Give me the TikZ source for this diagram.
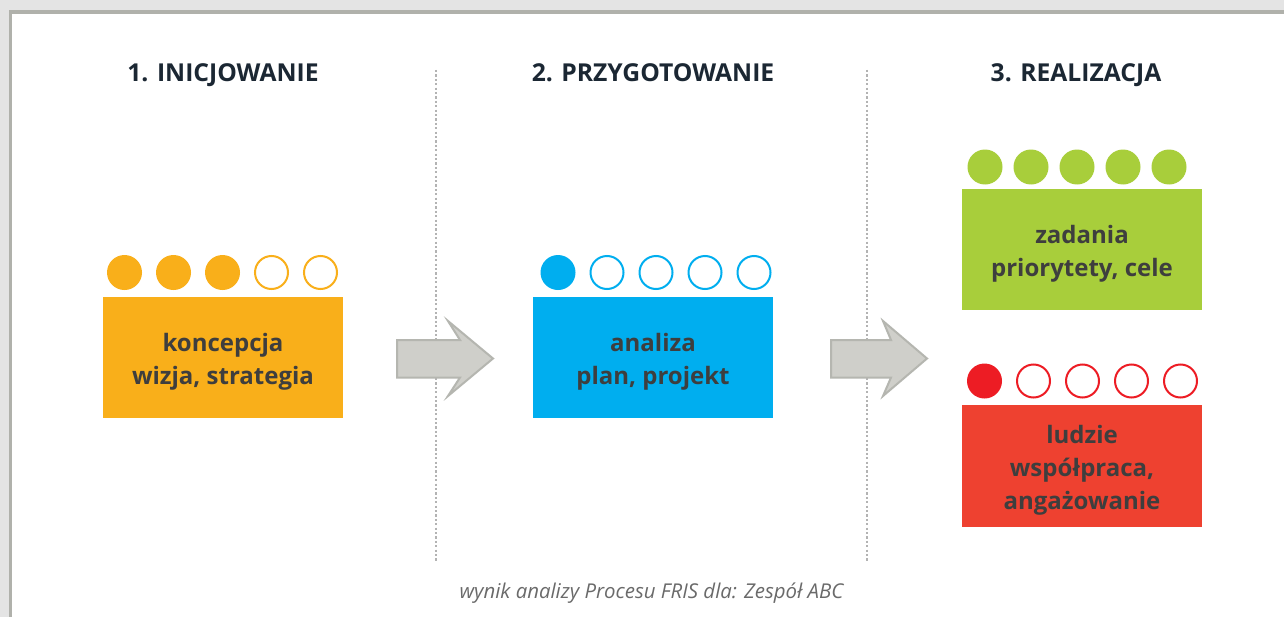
\documentclass[tikz,border=0pt]{standalone}
\usepackage{fontspec}
\setmainfont{Open Sans}
\definecolor{bgout}{HTML}{E4E4E4}
\definecolor{frame}{HTML}{B0B1AB}
\definecolor{headc}{HTML}{1B2733}
\definecolor{txtc}{HTML}{3E3E3E}
\definecolor{orangec}{HTML}{F9AF1A}
\definecolor{bluec}{HTML}{00AEEF}
\definecolor{greenc}{HTML}{A8CE3B}
\definecolor{redbox}{HTML}{EE4130}
\definecolor{redc}{HTML}{ED1C24}
\definecolor{arrfill}{HTML}{CFCFCA}
\definecolor{arrdraw}{HTML}{B5B6B0}
\definecolor{dotc}{HTML}{B3B3B3}
\definecolor{footc}{HTML}{6A6A6A}
\begin{document}
\begin{tikzpicture}[x=0.75pt,y=-0.75pt,
  heading/.style={font=\fontsize{18.5}{22}\selectfont\bfseries, text=headc, anchor=base},
  boxtext/.style={font=\fontsize{18}{24.75}\selectfont\bfseries, text=txtc, align=center},
  full/.style={circle, minimum size=35*0.75pt, inner sep=0pt, fill=#1},
  empty/.style={circle, minimum size=33*0.75pt, inner sep=0pt, draw=#1, line width=1.5pt, fill=white},
  sep/.style={dotc, line width=1.6pt, dash pattern=on 1.6pt off 1.7pt},
  bigarrow/.style={fill=arrfill, draw=arrdraw, line width=1.5pt, line join=miter}
]
\useasboundingbox (0,0) rectangle (1284,617);
\fill[bgout] (0,0) rectangle (1284,617);
\fill[frame] (9,10) rectangle (1284,617);
\fill[white] (12,14) rectangle (1284,617);

% separators
\coordinate (s1a) at (436,70); \coordinate (s1b) at (436,561);
\coordinate (s2a) at (867,70); \coordinate (s2b) at (867,561);
\draw[sep] (s1a) -- (s1b);
\draw[sep] (s2a) -- (s2b);

% headings
\node[heading] (h1) at (223,82) {1. INICJOWANIE};
\node[heading] (h2) at (653,82) {2. PRZYGOTOWANIE};
\node[heading] (h3) at (1076,82) {3. REALIZACJA};

% boxes
\fill[orangec] (103,297) rectangle (343,418);
\node[boxtext] (t1) at (223,362) {koncepcja\\wizja, strategia};
\fill[bluec] (533,297) rectangle (773,418);
\node[boxtext] (t2) at (653,362) {analiza\\plan, projekt};
\fill[greenc] (962,189) rectangle (1202,310);
\node[boxtext] (t3) at (1082,254) {zadania\\priorytety, cele};
\fill[redbox] (962,405) rectangle (1202,527);
\node[boxtext] (t4) at (1082,470) {ludzie\\współpraca,\\angażowanie};

% circles orange
\node[full=orangec] (o1) at (124.5,272.5) {};
\node[full=orangec] (o2) at (173.5,272.5) {};
\node[full=orangec] (o3) at (222.5,272.5) {};
\node[empty=orangec] (o4) at (271.5,272.5) {};
\node[empty=orangec] (o5) at (320.5,272.5) {};
% circles blue
\node[full=bluec] (b1) at (558,272.5) {};
\node[empty=bluec] (b2) at (607,272.5) {};
\node[empty=bluec] (b3) at (656,272.5) {};
\node[empty=bluec] (b4) at (705,272.5) {};
\node[empty=bluec] (b5) at (754,272.5) {};
% circles green
\node[full=greenc] (g1) at (985,167) {};
\node[full=greenc] (g2) at (1031,167) {};
\node[full=greenc] (g3) at (1077,167) {};
\node[full=greenc] (g4) at (1123,167) {};
\node[full=greenc] (g5) at (1169,167) {};
% circles red
\node[full=redc] (r1) at (984.5,381) {};
\node[empty=redc] (r2) at (1033.5,381) {};
\node[empty=redc] (r3) at (1082.5,381) {};
\node[empty=redc] (r4) at (1131.5,381) {};
\node[empty=redc] (r5) at (1180.5,381) {};

% block arrows
\draw[bigarrow] (397,340) -- (460,340) -- (448,321) -- (493,358.5) -- (448,396) -- (460,377.5) -- (397,377.5) -- cycle;
\draw[bigarrow] (831,340) -- (891,340) -- (883,321) -- (927,358.5) -- (883,396) -- (891,377.5) -- (831,377.5) -- cycle;

% footer
\node[font=\fontsize{15.3}{18}\selectfont\itshape, text=footc] (foot) at (651.5,593) {wynik analizy Procesu FRIS dla: Zespół ABC};
\end{tikzpicture}
\end{document}
